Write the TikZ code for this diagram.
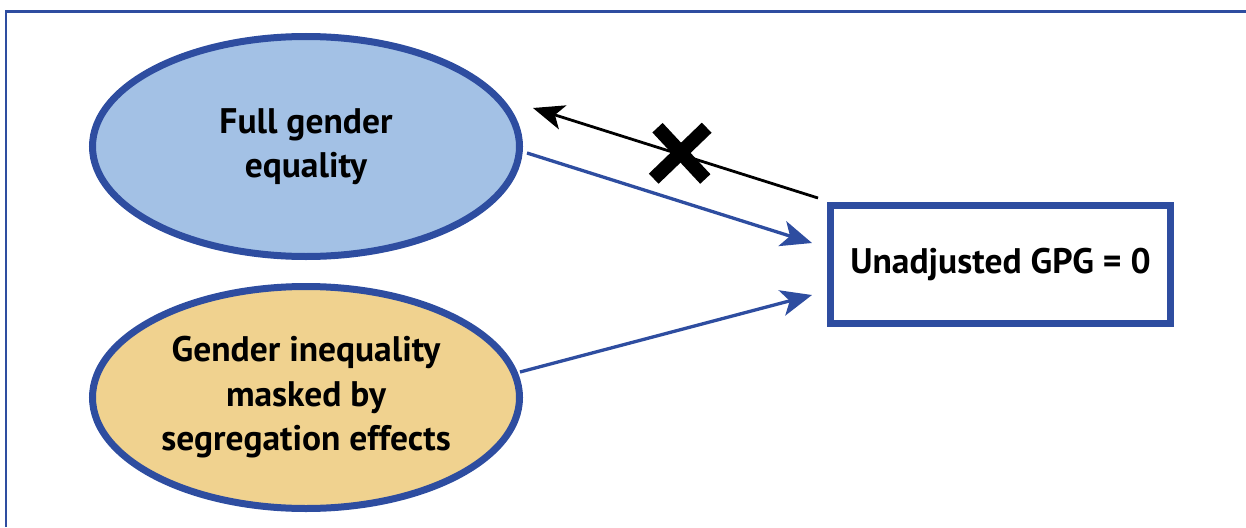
\documentclass[tikz,border=0pt]{standalone}
\usepackage{fontspec}
\setmainfont{PT Sans}
\usetikzlibrary{arrows.meta,shapes.geometric}
\definecolor{bordblue}{RGB}{46,77,160}
\definecolor{fillblue}{RGB}{163,193,229}
\definecolor{filltan}{RGB}{240,210,143}
\tikzset{
  ellnode/.style={ellipse,draw=bordblue,line width=7pt,minimum width=427pt,align=center,
    font=\bfseries\fontsize{35.5}{44.5}\selectfont,inner sep=0pt},
  boxnode/.style={rectangle,draw=bordblue,line width=7pt,fill=white,minimum width=340pt,minimum height=118pt,
    font=\bfseries\fontsize{35.5}{44}\selectfont,inner sep=0pt},
  bluearrow/.style={draw=bordblue,line width=3.3pt,-{Stealth[length=31pt,width=26pt,inset=8pt]}},
  blackarrow/.style={draw=black,line width=2.8pt,-{Stealth[length=31pt,width=25pt,inset=8pt]}},
  crossmark/.style={draw=black,line width=14pt},
  framestyle/.style={draw=bordblue,line width=2.6pt}
}
\begin{document}
\begin{tikzpicture}[x=1pt,y=-1pt]
\useasboundingbox (0,0) rectangle (1246,527);
\coordinate (fbl) at (6,527);
\coordinate (ftl) at (6,11.3);
\coordinate (ftr) at (1246,11.3);
\draw[framestyle] (fbl) -- (ftl) -- (ftr);
\node[ellnode,fill=fillblue,minimum height=220pt] (e1) at (306,146.5) {Full gender\\equality};
\node[ellnode,fill=filltan,minimum height=222pt] (e2) at (306,397.5) {Gender inequality\\masked by\\segregation effects};
\node[boxnode] (box) at (1000.5,264.5) {Unadjusted GPG = 0};
\coordinate (s1) at (527,153);
\coordinate (t1) at (812,243);
\coordinate (s2) at (520,372);
\coordinate (t2) at (812,295);
\coordinate (s3) at (818,198);
\coordinate (t3) at (533,108);
\draw[bluearrow] (s1) -- (t1);
\draw[bluearrow] (s2) -- (t2);
\draw[blackarrow] (s3) -- (t3);
\coordinate (x1) at (657.5,127.7);
\coordinate (x2) at (705.3,179);
\coordinate (x3) at (706.7,127.7);
\coordinate (x4) at (653.7,178.7);
\draw[crossmark] (x1) -- (x2);
\draw[crossmark] (x3) -- (x4);
\end{tikzpicture}
\end{document}
